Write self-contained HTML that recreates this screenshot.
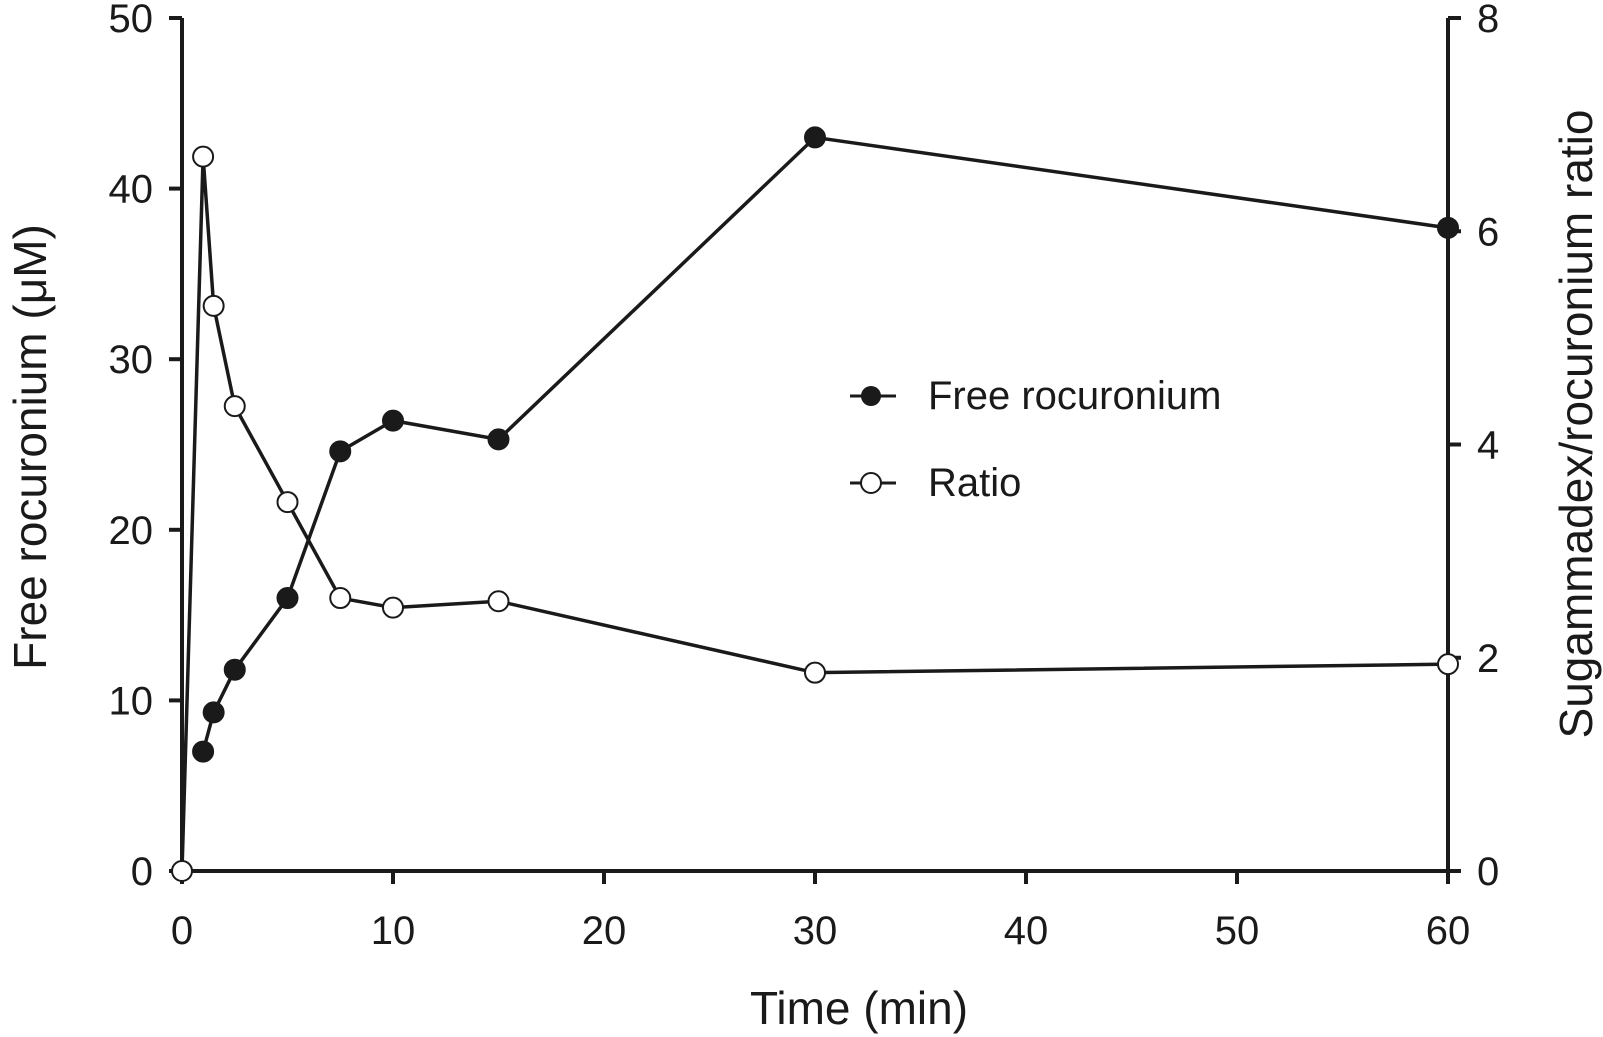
<!DOCTYPE html>
<html><head><meta charset="utf-8"><style>
html,body{margin:0;padding:0;background:#fff;}
svg{display:block;font-family:"Liberation Sans",Arial,sans-serif;}
</style></head><body>
<svg id="chart" width="1603" height="1037" viewBox="0 0 1603 1037" xmlns="http://www.w3.org/2000/svg"></svg>
<script>
const times = [1, 1.5, 2.5, 5, 7.5, 10, 15, 30, 60];
const freeRoc = [7.0, 9.3, 11.8, 16.0, 24.6, 26.4, 25.3, 43.0, 37.7];
const ratioTimes = [0, 1, 1.5, 2.5, 5, 7.5, 10, 15, 30, 60];
const ratio = [0, 6.7, 5.3, 4.36, 3.46, 2.56, 2.47, 2.53, 1.86, 1.94];
const xTicks = [0, 10, 20, 30, 40, 50, 60];
const yLeftTicks = [0, 10, 20, 30, 40, 50];
const yRightTicks = [0, 2, 4, 6, 8];

const X0=182, X1=1448, Y0=871, Y1=18;
const sx = v => X0 + (v/60)*(X1-X0);
const syL = v => Y0 - (v/50)*(Y0-Y1);
const syR = v => Y0 - (v/8)*(Y0-Y1);
const svg = document.getElementById('chart');
const NS='http://www.w3.org/2000/svg';
function mk(tag, attrs, parent){const e=document.createElementNS(NS,tag);for(const k in attrs)e.setAttribute(k,attrs[k]);(parent||svg).appendChild(e);return e;}
const S='#1a1a1a';

let a=mk('line',{x1:X0,y1:Y1,x2:X0,y2:Y0,stroke:S,'stroke-width':4});


a=mk('line',{x1:X1,y1:Y1,x2:X1,y2:Y0,stroke:S,'stroke-width':4});


a=mk('line',{x1:X0-2,y1:Y0,x2:X1+2,y2:Y0,stroke:S,'stroke-width':4});



xTicks.forEach(t=>{
  mk('line',{x1:sx(t),y1:Y0,x2:sx(t),y2:Y0+13,stroke:S,'stroke-width':4});
  const tx=mk('text',{x:sx(t),y:Y0+73,'font-size':40,'text-anchor':'middle',fill:S});
  tx.textContent=t;
  
  
});
yLeftTicks.forEach(t=>{
  mk('line',{x1:X0-13,y1:syL(t),x2:X0,y2:syL(t),stroke:S,'stroke-width':4});
  const tx=mk('text',{x:X0-29,y:syL(t)+14,'font-size':40,'text-anchor':'end',fill:S});
  tx.textContent=t;
  
  
});
yRightTicks.forEach(t=>{
  mk('line',{x1:X1,y1:syR(t),x2:X1+13,y2:syR(t),stroke:S,'stroke-width':4});
  const tx=mk('text',{x:X1+29,y:syR(t)+14,'font-size':40,'text-anchor':'start',fill:S});
  tx.textContent=t;
  
  
});

let t=mk('text',{x:859,y:1024,'font-size':46,'text-anchor':'middle',fill:S});
t.textContent='Time (min)';


t=mk('text',{x:0,y:0,'font-size':46,'text-anchor':'middle',fill:S,transform:'translate(46,447) rotate(-90)'});
t.textContent='Free rocuronium (\u03bcM)';


t=mk('text',{x:0,y:0,'font-size':46,'text-anchor':'middle',fill:S,transform:'translate(1592,424) rotate(-90)'});
t.textContent='Sugammadex/rocuronium ratio';



let p=mk('polyline',{points:ratioTimes.map((v,i)=>sx(v)+','+syR(ratio[i])).join(' '),fill:'none',stroke:S,'stroke-width':3.5});


p=mk('polyline',{points:times.map((v,i)=>sx(v)+','+syL(freeRoc[i])).join(' '),fill:'none',stroke:S,'stroke-width':3.5});


ratioTimes.forEach((v,i)=>{
  const c=mk('circle',{cx:sx(v),cy:syR(ratio[i]),r:10,fill:'#fff',stroke:S,'stroke-width':2});
  
  
});
times.forEach((v,i)=>{
  const c=mk('circle',{cx:sx(v),cy:syL(freeRoc[i]),r:10,fill:S,stroke:S,'stroke-width':2});
  
  
});

const lg=mk('g',{});


mk('line',{x1:850,y1:396,x2:896,y2:396,stroke:S,'stroke-width':3},lg);
mk('circle',{cx:871,cy:396,r:10,fill:S},lg);
let lt=mk('text',{x:928,y:409,'font-size':40,fill:S},lg);
lt.textContent='Free rocuronium';


mk('line',{x1:850,y1:483,x2:896,y2:483,stroke:S,'stroke-width':3},lg);
mk('circle',{cx:871,cy:483,r:10,fill:'#fff',stroke:S,'stroke-width':2},lg);
lt=mk('text',{x:928,y:496,'font-size':40,fill:S},lg);
lt.textContent='Ratio';


</script>
</body></html>
